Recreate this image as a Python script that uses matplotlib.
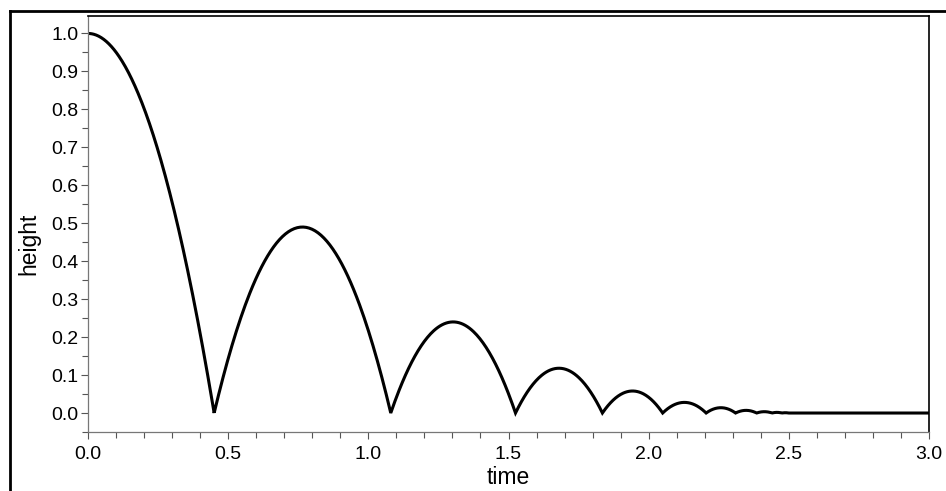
import numpy as np
import matplotlib
matplotlib.use("Agg")
import matplotlib.pyplot as plt
from matplotlib.lines import Line2D
from matplotlib.ticker import MultipleLocator, FormatStrFormatter

plt.rcParams['font.family'] = ['Liberation Sans', 'DejaVu Sans']

# Data
start_height = 1.0
impact_times = [0.45, 1.08, 1.525, 1.835, 2.05, 2.205, 2.31, 2.385, 2.44, 2.475, 2.50]
peak_heights = [0.49, 0.24, 0.118, 0.058, 0.028, 0.014, 0.007, 0.0035, 0.0017, 0.0008]
t_end = 3.0

# Build the curve from arcs between impacts
ts, hs = [], []
t = np.linspace(0, impact_times[0], 200)
ts.append(t); hs.append(start_height * (1 - (t / impact_times[0]) ** 2))
for i, h in enumerate(peak_heights):
    a, b = impact_times[i], impact_times[i + 1]
    t = np.linspace(a, b, 120)
    mid, half = (a + b) / 2, (b - a) / 2
    ts.append(t); hs.append(h * (1 - ((t - mid) / half) ** 2))
t = np.array([impact_times[-1], t_end])
ts.append(t); hs.append(np.zeros_like(t))
T = np.concatenate(ts); H = np.concatenate(hs)

fig = plt.figure(figsize=(9.46, 4.91), dpi=100)
ax = fig.add_axes([88/946, 1-432/491, (929-88)/946, (432-16)/491])
ax.plot(T, H, color='black', lw=2.2, solid_joinstyle='miter')
ax.set_xlim(0, 3.0)
ax.set_ylim(-0.05, 1.046)
ax.xaxis.set_major_locator(MultipleLocator(0.5))
ax.xaxis.set_minor_locator(MultipleLocator(0.1))
ax.yaxis.set_minor_locator(MultipleLocator(0.05))
ax.set_yticks(np.arange(0, 1.01, 0.1))
ax.xaxis.set_major_formatter(FormatStrFormatter('%.1f'))
ax.yaxis.set_major_formatter(FormatStrFormatter('%.1f'))
ax.tick_params(axis='both', which='both', direction='out', color='#555555', width=0.8, labelsize=14)
ax.tick_params(axis='both', which='major', length=5)
ax.tick_params(axis='both', which='minor', length=4)
ax.tick_params(axis='y', pad=2)
ax.tick_params(axis='x', pad=5)
for s in ['left', 'bottom']:
    ax.spines[s].set_color('#777777'); ax.spines[s].set_linewidth(0.9)
for s in ['top', 'right']:
    ax.spines[s].set_color('black'); ax.spines[s].set_linewidth(1.2)
ax.set_xlabel('time', fontsize=16.5, labelpad=2)
ax.set_ylabel('height', fontsize=16.5)
ax.yaxis.set_label_coords(40/946, 1-244/491, transform=fig.transFigure)

# outer frame
fig.add_artist(Line2D([10/946, 1.0], [1-11/491, 1-11/491], color='black', lw=2, transform=fig.transFigure))
fig.add_artist(Line2D([10/946, 10/946], [0, 1-11/491], color='black', lw=2, transform=fig.transFigure))

fig.savefig('out.png', dpi=100)
